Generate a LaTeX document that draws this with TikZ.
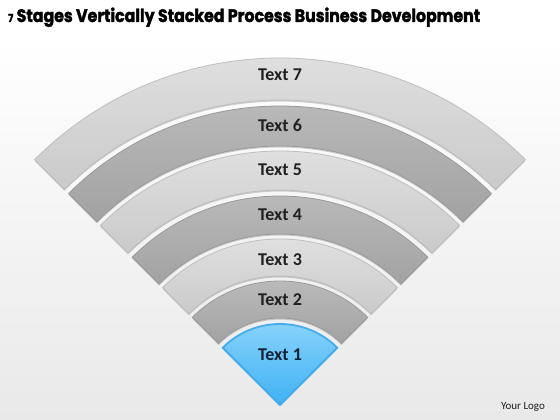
\documentclass[tikz,border=0pt]{standalone}
\usepackage{fontspec}
\setmainfont{Carlito}
\newfontfamily\titlefont{Poppins}[BoldFeatures={FakeBold=2}]
\definecolor{ltop}{HTML}{E4E4E4}
\definecolor{lbot}{HTML}{CACACA}
\definecolor{ledge}{HTML}{BEBEBE}
\definecolor{dtop}{HTML}{BEBEBE}
\definecolor{dbot}{HTML}{A2A2A2}
\definecolor{dedge}{HTML}{9A9A9A}
\definecolor{btop}{HTML}{8DD5FB}
\definecolor{bbot}{HTML}{3FB1F4}
\definecolor{bedge}{HTML}{45ADEE}
\definecolor{bgbot}{HTML}{E9E9E9}
\definecolor{txt}{HTML}{202020}
\definecolor{txtb}{HTML}{102235}
\begin{document}
\begin{tikzpicture}[x=1pt,y=1pt,
  shadowed/.style={preaction={fill=black,opacity=0.18,transform canvas={yshift=-1.5pt}}},
  lightband/.style={shadowed,top color=ltop,bottom color=lbot,draw=ledge,line width=0.8pt},
  darkband/.style={shadowed,top color=dtop,bottom color=dbot,draw=dedge,line width=0.8pt},
  blueband/.style={shadowed,top color=btop,bottom color=bbot,draw=bedge,line width=1.8pt,line join=round},
  lbl/.style={font=\bfseries\fontsize{18}{20}\selectfont,text=txt},
  apex/.style={shift={(280,15)}}]
\useasboundingbox (0,0) rectangle (560,420);
\shade[top color=white,bottom color=bgbot] (0,0) rectangle (560,383);
\fill[white] (0,383) rectangle (560,420);
% bands
\path[lightband,apex] (45:347) arc[start angle=45,end angle=135,radius=347] -- (135:305) arc[start angle=135,end angle=45,radius=305] -- cycle;
\path[darkband,apex] (45:299) arc[start angle=45,end angle=135,radius=299] -- (135:259) arc[start angle=135,end angle=45,radius=259] -- cycle;
\path[lightband,apex] (45:254) arc[start angle=45,end angle=135,radius=254] -- (135:215) arc[start angle=135,end angle=45,radius=215] -- cycle;
\path[darkband,apex] (45:209) arc[start angle=45,end angle=135,radius=209] -- (135:171) arc[start angle=135,end angle=45,radius=171] -- cycle;
\path[lightband,apex] (45:166) arc[start angle=45,end angle=135,radius=166] -- (135:129) arc[start angle=135,end angle=45,radius=129] -- cycle;
\path[darkband,apex] (45:124) arc[start angle=45,end angle=135,radius=124] -- (135:87) arc[start angle=135,end angle=45,radius=87] -- cycle;
\path[blueband,apex] (0,0) -- (45:81) arc[start angle=45,end angle=135,radius=81] -- cycle;
% labels
\node[lbl] (t7) at (280,345) {Text 7};
\node[lbl] (t6) at (280,295) {Text 6};
\node[lbl] (t5) at (280,250) {Text 5};
\node[lbl] (t4) at (280,205) {Text 4};
\node[lbl] (t3) at (280,160) {Text 3};
\node[lbl] (t2) at (280,120) {Text 2};
\node[lbl,text=txtb] (t1) at (280,65) {Text 1};
% title and logo
\node[anchor=base west,inner sep=0pt] (title) at (8,398) {\resizebox{472pt}{\height}{\titlefont\bfseries\fontsize{18}{20}\selectfont{\fontsize{11}{12}\selectfont 7} Stages Vertically Stacked Process Business Development}};
\node[font=\fontsize{11}{12}\selectfont,text=txt] (logo) at (523,13) {Your Logo};
\end{tikzpicture}
\end{document}
